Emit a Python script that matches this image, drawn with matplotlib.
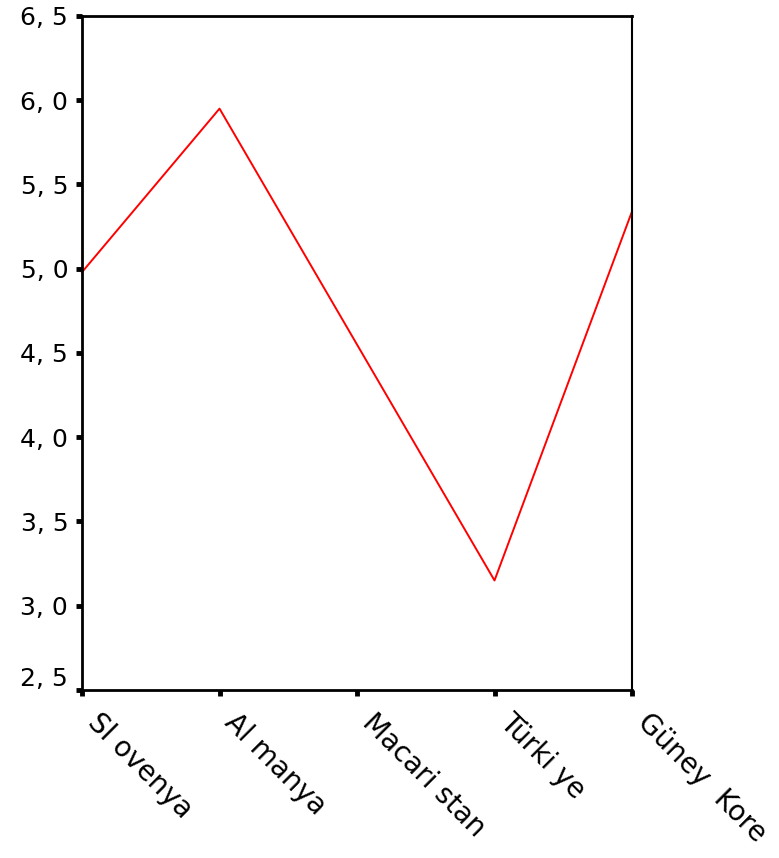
import matplotlib
matplotlib.use("Agg")
import matplotlib.pyplot as plt
import matplotlib.transforms as mtransforms
from matplotlib.ticker import FixedLocator, FuncFormatter

# data
countries = ["Sl ovenya", "Al manya", "Macari stan", "Türki ye", "Güney  Kore"]
values = [4.98, 5.95, 4.55, 3.15, 5.34]
y_ticks = [2.5, 3.0, 3.5, 4.0, 4.5, 5.0, 5.5, 6.0, 6.5]

plt.rcParams["font.family"] = ["DejaVu Sans"]

fig = plt.figure(figsize=(7.79, 8.58), dpi=100)
ax = fig.add_axes([0.1053, 0.1958, 0.706, 0.7856])

ax.plot(range(len(countries)), values, color="#ff0000", lw=1.4, clip_on=False)

ax.set_xlim(0, len(countries) - 1)
ax.set_ylim(2.5, 6.5)

ax.yaxis.set_major_locator(FixedLocator(y_ticks))
ax.yaxis.set_major_formatter(FuncFormatter(lambda v, p: ("%.1f" % v).replace(".", ", ")))
ax.set_xticks(range(len(countries)))
ax.set_xticklabels(countries, rotation=-45, ha="left", va="top",
                   rotation_mode="anchor")

ax.tick_params(axis="both", direction="out", length=4, width=3.5,
               color="black")
ax.tick_params(axis="y", pad=6, labelsize=18)
ax.tick_params(axis="x", pad=9, labelsize=20)

# labels start a little to the right of their tick
shift = mtransforms.ScaledTranslation(14 / 72, 0, fig.dpi_scale_trans)
for lab in ax.get_xticklabels():
    lab.set_transform(lab.get_transform() + shift)

# lowest y label sits above the x axis
fig.canvas.draw()
ax.get_yticklabels()[0].set_va("bottom")
ax.get_yticklabels()[0].set_transform(
    ax.get_yticklabels()[0].get_transform()
    + mtransforms.ScaledTranslation(0, -1 / 72, fig.dpi_scale_trans))

for side in ["left", "bottom", "top"]:
    ax.spines[side].set_linewidth(2)
ax.spines["right"].set_linewidth(1.5)

fig.savefig("out.png", dpi=100)
